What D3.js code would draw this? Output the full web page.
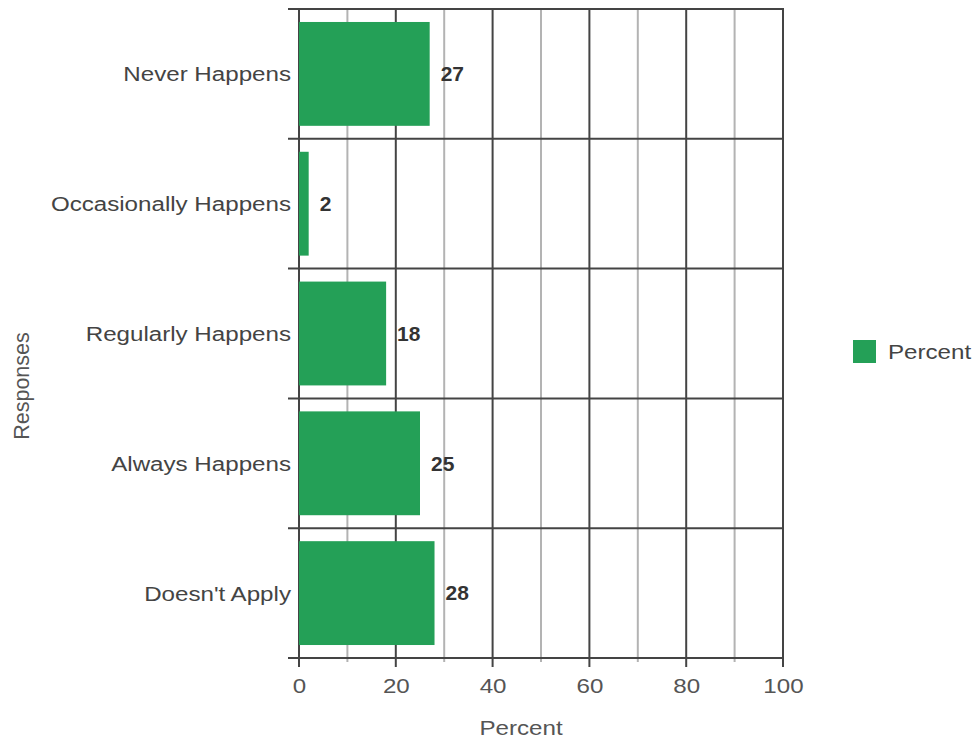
<!DOCTYPE html>
<html>
<head>
<meta charset="utf-8">
<script src="https://cdn.jsdelivr.net/npm/d3@7"></script>
<style>
  body { margin: 0; background: #fff; }
  svg { display: block; font-family: "Liberation Sans", Arial, sans-serif; }
</style>
</head>
<body>
<svg id="chart" width="976" height="745"></svg>
<script>
// chart data
const categories = ["Never Happens", "Occasionally Happens", "Regularly Happens", "Always Happens", "Doesn't Apply"];
const values = [27, 2, 18, 25, 28];
const xTicks = [0, 20, 40, 60, 80, 100];
const seriesName = "Percent";
const xTitle = "Percent";
const yTitle = "Responses";

const green = "#24a057";
const dark = "#444";
const light = "#b3b3b3";
const stretch = "scale(1.15,1)"; // reference text is a bit wide

const svg = d3.select("#chart");
const plot = { left: 299, right: 783, top: 9, bottom: 658 };

const x = d3.scaleLinear().domain([0, 100]).range([plot.left, plot.right]);
const y = d3.scaleBand().domain(categories).range([plot.top, plot.bottom])
    .paddingInner(0.2).paddingOuter(0.1);

// vertical grid, minor first so majors sit on top
const grid = svg.append("g").attr("class", "grid");
const gridTicks = x.ticks(10);
grid.selectAll("line.minor")
    .data(gridTicks.filter(d => d % 20 !== 0))
    .join("line")
    .attr("class", "minor")
    .attr("x1", d => x(d)).attr("x2", d => x(d))
    .attr("y1", plot.top).attr("y2", plot.bottom + 4)
    .attr("stroke", light).attr("stroke-width", 2);
grid.selectAll("line.major")
    .data(gridTicks.filter(d => d % 20 === 0))
    .join("line")
    .attr("class", "major")
    .attr("x1", d => x(d)).attr("x2", d => x(d))
    .attr("y1", plot.top).attr("y2", plot.bottom + 9)
    .attr("stroke", dark).attr("stroke-width", 2);

// horizontal band separators
const bounds = d3.range(categories.length + 1).map(i => y.range()[0] + i * y.step());
grid.selectAll("line.sep")
    .data(bounds)
    .join("line")
    .attr("class", "sep")
    .attr("x1", plot.left - 11).attr("x2", plot.right + 1)
    .attr("y1", d => d).attr("y2", d => d)
    .attr("stroke", dark).attr("stroke-width", 2);

// bars
svg.append("g").selectAll("rect")
    .data(values)
    .join("rect")
    .attr("x", x(0))
    .attr("y", (d, i) => y(categories[i]))
    .attr("width", d => x(d) - x(0))
    .attr("height", y.bandwidth())
    .attr("fill", green);

// value labels
svg.append("g").selectAll("text")
    .data(values)
    .join("text")
    .attr("transform", (d, i) => `translate(${x(d) + 11},${y(categories[i]) + y.bandwidth() / 2}) scale(1.05,1)`)
    .attr("dy", "0.36em")
    .attr("font-size", 20)
    .attr("font-weight", "bold")
    .attr("fill", "#333")
    .text(d => d);

// y axis (category labels)
const yAxis = svg.append("g")
    .attr("transform", `translate(${plot.left},0)`)
    .call(d3.axisLeft(y).tickSize(0).tickPadding(7));
yAxis.select(".domain").remove();
yAxis.selectAll("text")
    .attr("font-size", 21)
    .attr("font-family", null)
    .attr("fill", dark)
    .attr("dy", "0.36em")
    .attr("transform", stretch);

// x axis (tick labels)
const xAxis = svg.append("g")
    .attr("transform", `translate(0,${plot.bottom})`)
    .call(d3.axisBottom(x).tickValues(xTicks).tickSize(0).tickPadding(0));
xAxis.select(".domain").remove();
xAxis.selectAll("text")
    .attr("font-size", 21)
    .attr("fill", "#555")
    .attr("y", 35)
    .attr("dy", 0)
    .attr("transform", stretch);

// axis titles
svg.append("text")
    .attr("transform", `translate(521,735) ${stretch}`)
    .attr("text-anchor", "middle")
    .attr("font-size", 21)
    .attr("fill", "#555")
    .text(xTitle);

svg.append("text")
    .attr("transform", "translate(29,386) rotate(-90)")
    .attr("text-anchor", "middle")
    .attr("font-size", 21.5)
    .attr("fill", "#555")
    .text(yTitle);

// legend
const legend = svg.append("g").attr("transform", "translate(853,340)");
legend.append("rect")
    .attr("width", 23).attr("height", 23)
    .attr("fill", green);
legend.append("text")
    .attr("transform", `translate(35,19) ${stretch}`)
    .attr("font-size", 21)
    .attr("fill", dark)
    .text(seriesName);
</script>
</body>
</html>
